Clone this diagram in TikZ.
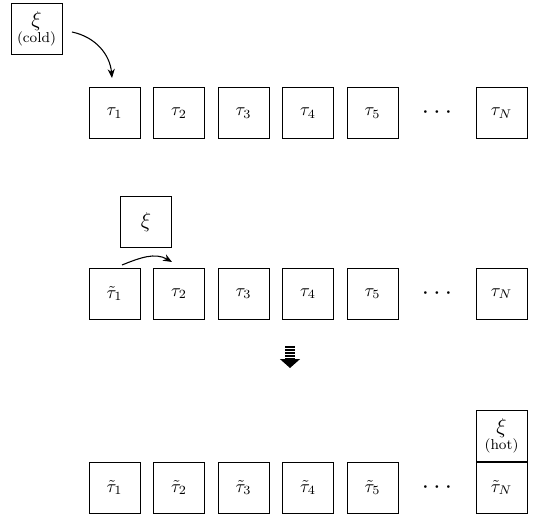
\documentclass[tikz,border=0pt]{standalone}
\usetikzlibrary{arrows.meta}
\begin{document}
\begin{tikzpicture}[x=0.0196cm,y=0.0196cm,
  cell/.style={draw,line width=0.5pt,minimum size=1cm,inner sep=0pt},
  dotsn/.style={font=\Large},
  conn/.style={line width=0.6pt,-{Stealth[length=5pt,width=4pt]}}]
\useasboundingbox (0,0) rectangle (540,518);
% row 1
\node[cell] (a1) at (114.5,405) {$\tau_1$};
\node[cell] (a2) at (179,405) {$\tau_2$};
\node[cell] (a3) at (243.5,405) {$\tau_3$};
\node[cell] (a4) at (308,405) {$\tau_4$};
\node[cell] (a5) at (372.5,405) {$\tau_5$};
\node[dotsn] (ad) at (437,405) {$\cdots$};
\node[cell] (aN) at (501.5,405) {$\tau_N$};
\node[cell,align=center] (xc) at (36.5,489.5) {{\large$\xi$}\\[-3pt]{\footnotesize(cold)}};
\coordinate (s1) at (72,486);
\coordinate (e1) at (112,440);
\draw[conn] (s1) to[out=-12,in=95] (e1);
% row 2
\node[cell] (b1) at (114.5,224.5) {$\tilde{\tau}_1$};
\node[cell] (b2) at (179,224.5) {$\tau_2$};
\node[cell] (b3) at (243.5,224.5) {$\tau_3$};
\node[cell] (b4) at (308,224.5) {$\tau_4$};
\node[cell] (b5) at (372.5,224.5) {$\tau_5$};
\node[dotsn] (bd) at (437,224.5) {$\cdots$};
\node[cell] (bN) at (501.5,224.5) {$\tau_N$};
\node[cell,font=\large] (xm) at (146,296) {$\xi$};
\coordinate (s2) at (122,253);
\coordinate (e2) at (172,256);
\draw[conn] (s2) to[out=22,in=150] (e2);
% down arrow
\coordinate (d1) at (290,172);
\coordinate (d2) at (290,150);
\draw[line width=6pt,dash pattern=on 0.9pt off 0.8pt,-{Triangle[length=5pt,width=11pt]}] (d1) -- (d2);
% row 3
\node[cell] (c1) at (114.5,30.5) {$\tilde{\tau}_1$};
\node[cell] (c2) at (179,30.5) {$\tilde{\tau}_2$};
\node[cell] (c3) at (243.5,30.5) {$\tilde{\tau}_3$};
\node[cell] (c4) at (308,30.5) {$\tilde{\tau}_4$};
\node[cell] (c5) at (372.5,30.5) {$\tilde{\tau}_5$};
\node[dotsn] (cd) at (437,30.5) {$\cdots$};
\node[cell] (cN) at (501.5,30.5) {$\tilde{\tau}_N$};
\node[cell,align=center,anchor=south] (xh) at (cN.north) {{\large$\xi$}\\[-3pt]{\footnotesize(hot)}};
\end{tikzpicture}
\end{document}
